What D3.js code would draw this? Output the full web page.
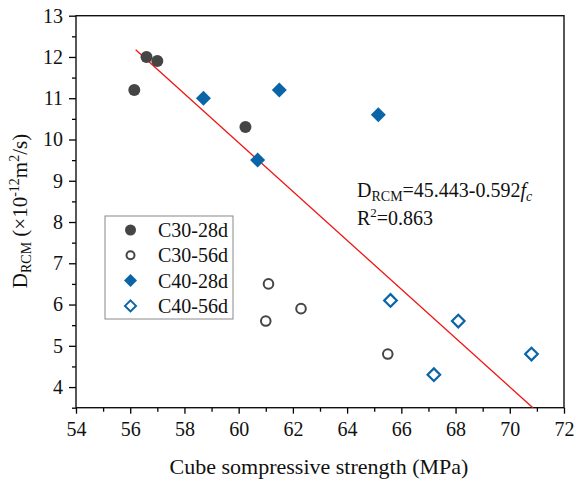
<!DOCTYPE html>
<html>
<head>
<meta charset="utf-8">
<script src="https://cdn.jsdelivr.net/npm/d3@7"></script>
<style>
  body { margin: 0; background: #fff; }
  svg { display: block; font-family: "Liberation Serif", "Times New Roman", serif; }
  svg text, .tick text { font-family: "Liberation Serif", "Times New Roman", serif; }
  .tick text { font-size: 20px; fill: #111; }
</style>
</head>
<body>
<div id="chart"></div>
<script>
// data
const c30_28d = [[56.15, 11.2], [56.6, 12.0], [57.0, 11.9], [60.25, 10.3]];
const c30_56d = [[61.1, 6.5], [61.0, 5.6], [62.3, 5.9], [65.5, 4.8]];
const c40_28d = [[58.7, 11.0], [60.7, 9.5], [61.5, 11.2], [65.15, 10.6]];
const c40_56d = [[65.6, 6.1], [68.1, 5.6], [67.2, 4.3], [70.8, 4.8]];
const seriesNames = ['C30-28d', 'C30-56d', 'C40-28d', 'C40-56d'];
const xTicks = [54, 56, 58, 60, 62, 64, 66, 68, 70, 72];
const yTicks = [4, 5, 6, 7, 8, 9, 10, 11, 12, 13];
// fit: D = 45.443 - 0.592 fc
const fitA = 45.443, fitB = -0.592;
const fitRange = [56.2, 70.85];

const width = 576, height = 483;
const margin = {top: 15.7, right: 12, bottom: 75.3, left: 76};
const gray = '#454545', blue = '#0a64a8';
const serif = '"Liberation Serif", "Times New Roman", serif';

const svg = d3.select('#chart').append('svg')
    .attr('width', width).attr('height', height);

const x = d3.scaleLinear([54, 72], [margin.left, width - margin.right]);
const y = d3.scaleLinear([3.5, 13], [height - margin.bottom, margin.top]);

// replace d3's default sans axis font with the serif one
const tidy = g => {
    g.attr('font-family', serif).attr('font-size', 20);
    g.selectAll('text').style('font-family', serif);
    g.select('.domain').remove();
    g.selectAll('line').attr('stroke-width', 1.3);
};

// axes
svg.append('g')
    .attr('transform', `translate(0,${height - margin.bottom})`)
    .call(d3.axisBottom(x).tickValues(xTicks).tickSize(6).tickPadding(8).tickFormat(d3.format('d')))
    .call(tidy);
svg.append('g')
    .attr('transform', `translate(0,${height - margin.bottom})`)
    .call(d3.axisBottom(x).tickValues(d3.range(55, 72, 2)).tickSize(4).tickFormat(''))
    .call(tidy);
svg.append('g')
    .attr('transform', `translate(${margin.left},0)`)
    .call(d3.axisLeft(y).tickValues(yTicks).tickSize(7).tickPadding(6).tickFormat(d3.format('d')))
    .call(tidy);
svg.append('g')
    .attr('transform', `translate(${margin.left},0)`)
    .call(d3.axisLeft(y).tickValues(d3.range(3.5, 13, 1)).tickSize(4).tickFormat(''))
    .call(tidy);

// frame
svg.append('rect')
    .attr('x', margin.left).attr('y', margin.top)
    .attr('width', width - margin.left - margin.right)
    .attr('height', height - margin.top - margin.bottom)
    .attr('fill', 'none').attr('stroke', '#111').attr('stroke-width', 1.4);

// fit line
svg.append('line')
    .attr('x1', x(fitRange[0])).attr('y1', y(fitA + fitB * fitRange[0]))
    .attr('x2', x(fitRange[1])).attr('y2', y(fitA + fitB * fitRange[1]))
    .attr('stroke', '#f01414').attr('stroke-width', 1.3);

// markers
const diamond = s => `M0,${-s}L${s},0L0,${s}L${-s},0Z`;

svg.append('g').selectAll('circle').data(c30_28d).join('circle')
    .attr('cx', d => x(d[0])).attr('cy', d => y(d[1])).attr('r', 6)
    .attr('fill', gray);
svg.append('g').selectAll('circle').data(c30_56d).join('circle')
    .attr('cx', d => x(d[0])).attr('cy', d => y(d[1])).attr('r', 4.8)
    .attr('fill', '#fff').attr('stroke', gray).attr('stroke-width', 2);
svg.append('g').selectAll('path').data(c40_28d).join('path')
    .attr('transform', d => `translate(${x(d[0])},${y(d[1])})`)
    .attr('d', diamond(7.5)).attr('fill', blue);
svg.append('g').selectAll('path').data(c40_56d).join('path')
    .attr('transform', d => `translate(${x(d[0])},${y(d[1])})`)
    .attr('d', diamond(6.3)).attr('fill', '#fff').attr('stroke', blue).attr('stroke-width', 2.2);

// legend
const legend = svg.append('g').attr('transform', 'translate(105,216)');
legend.append('rect').attr('width', 128).attr('height', 103)
    .attr('fill', '#fff').attr('stroke', '#888').attr('stroke-width', 1);
const legItems = legend.selectAll('g.item').data(seriesNames).join('g')
    .attr('class', 'item')
    .attr('transform', (d, i) => `translate(0,${14 + i * 25.3})`);
legItems.each(function (d, i) {
    const g = d3.select(this);
    if (i === 0) g.append('circle').attr('cx', 25.5).attr('r', 5.5).attr('fill', gray);
    if (i === 1) g.append('circle').attr('cx', 25.5).attr('r', 4).attr('fill', '#fff').attr('stroke', gray).attr('stroke-width', 2);
    if (i === 2) g.append('path').attr('transform', 'translate(25.5,0)').attr('d', diamond(6.5)).attr('fill', blue);
    if (i === 3) g.append('path').attr('transform', 'translate(25.5,0)').attr('d', diamond(5.5)).attr('fill', '#fff').attr('stroke', blue).attr('stroke-width', 2);
});
legItems.append('text').attr('x', 53).attr('dy', '0.35em')
    .attr('font-size', 20).attr('fill', '#111').text(d => d);

// equation
const eq = svg.append('text').attr('x', 357).attr('y', 197).attr('font-size', 20).attr('fill', '#111');
eq.append('tspan').text('D');
eq.append('tspan').attr('font-size', 14).attr('dy', 4).text('RCM');
eq.append('tspan').attr('dy', -4).text('=45.443-0.592');
eq.append('tspan').attr('font-style', 'italic').text('f');
eq.append('tspan').attr('font-style', 'italic').attr('font-size', 14).attr('dy', 4).text('c');
const r2 = svg.append('text').attr('x', 357).attr('y', 225).attr('font-size', 20).attr('fill', '#111');
r2.append('tspan').text('R');
r2.append('tspan').attr('font-size', 13).attr('dy', -8).text('2');
r2.append('tspan').attr('dy', 8).text('=0.863');

// axis titles
svg.append('text')
    .attr('x', 319).attr('y', 474)
    .attr('text-anchor', 'middle').attr('font-size', 22).attr('fill', '#111')
    .text('Cube sompressive strength (MPa)');

const yl = svg.append('text')
    .attr('transform', 'translate(27,211) rotate(-90)')
    .attr('text-anchor', 'middle').attr('font-size', 21).attr('fill', '#111');
yl.append('tspan').text('D');
yl.append('tspan').attr('font-size', 14).attr('dy', 4).text('RCM');
yl.append('tspan').attr('dy', -4).text(' (×10');
yl.append('tspan').attr('font-size', 14).attr('dy', -8).text('-12');
yl.append('tspan').attr('dy', 8).text('m');
yl.append('tspan').attr('font-size', 14).attr('dy', -8).text('2');
yl.append('tspan').attr('dy', 8).text('/s)');
</script>
</body>
</html>
